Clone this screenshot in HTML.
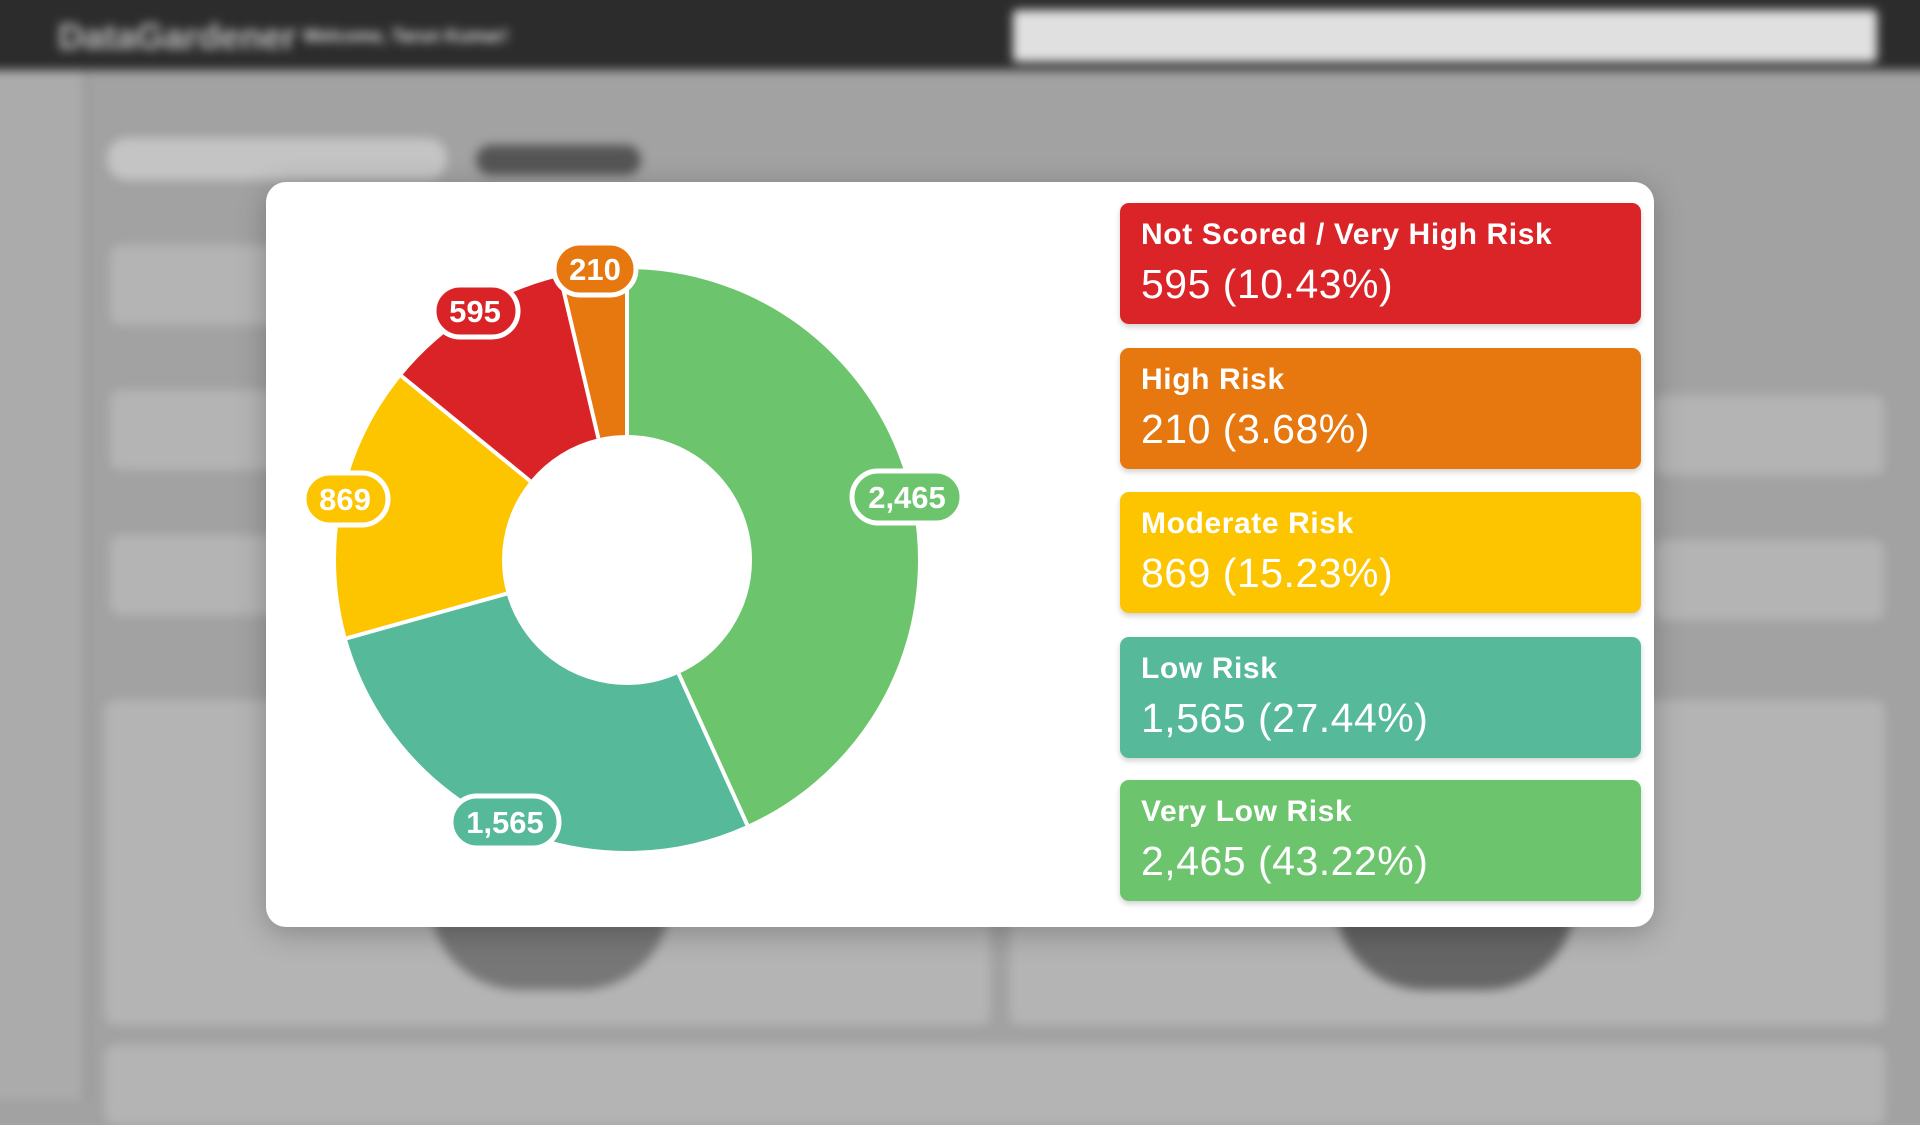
<!DOCTYPE html>
<html><head><meta charset="utf-8">
<style>
html,body{margin:0;padding:0;width:1920px;height:1080px;overflow:hidden;font-family:"Liberation Sans",sans-serif;background:#a2a2a2;}
.bg{position:absolute;inset:0;background:#a2a2a2;}
.blur{position:absolute;left:-20px;top:-20px;width:1960px;height:1120px;filter:blur(5px);}
.blur>div{margin:0}
.top{position:absolute;left:0;top:0;width:1960px;height:90px;background:#2c2c2c;}
.side{position:absolute;left:0;top:90px;width:104px;height:1030px;background:#ababab;border-right:3px solid #8f8f8f;}
.card{position:absolute;background:#b4b4b4;border-radius:10px;}
.modal{position:absolute;left:266px;top:182px;width:1388px;height:745px;background:#fff;border-radius:20px;box-shadow:0 6px 30px rgba(0,0,0,.25);}
.leg{position:absolute;left:1120px;width:521px;height:121px;border-radius:9px;color:#fff;box-shadow:0 3px 6px rgba(0,0,0,.18);}
.leg .t{position:absolute;left:21px;top:15px;font-size:30px;font-weight:bold;letter-spacing:0.6px;}
.leg .v{position:absolute;left:21px;top:58px;font-size:41px;letter-spacing:0.5px;}
</style></head><body>
<div class="bg"></div>
<div class="blur">
<div class="top"></div>
<div style="position:absolute;left:78px;top:36px;font-size:36px;color:#bbb;font-weight:bold">DataGardener</div>
<div style="position:absolute;left:323px;top:46px;font-size:18px;color:#ddd;font-weight:bold">Welcome, Tarun Kumar!</div>
<div style="position:absolute;left:1033px;top:30px;width:864px;height:52px;background:#e0e0e0;border-radius:4px"></div>
<div class="side"></div>
<div style="position:absolute;left:127px;top:158px;width:340px;height:42px;background:#c4c4c4;border-radius:20px"></div>
<div style="position:absolute;left:496px;top:165px;width:165px;height:30px;background:#555;border-radius:15px"></div>
<div class="card" style="left:130px;top:265px;width:180px;height:80px"></div>
<div class="card" style="left:130px;top:410px;width:180px;height:80px"></div>
<div class="card" style="left:130px;top:555px;width:180px;height:80px"></div>
<div class="card" style="left:1674px;top:415px;width:230px;height:80px"></div>
<div class="card" style="left:1674px;top:560px;width:230px;height:80px"></div>
<div class="card" style="left:125px;top:720px;width:885px;height:325px"></div>
<div class="card" style="left:1030px;top:720px;width:875px;height:325px"></div>
<div style="position:absolute;left:450px;top:920px;width:240px;height:90px;background:#777;border-radius:0 0 120px 120px"></div>
<div style="position:absolute;left:1355px;top:920px;width:240px;height:90px;background:#666;border-radius:0 0 120px 120px"></div>
<div class="card" style="left:125px;top:1065px;width:1780px;height:80px"></div>
</div>
<div class="modal"></div>
<svg style="position:absolute;left:0;top:0" width="1920" height="1080">
<g transform="rotate(-90 627 560)" fill="none" stroke-width="166">
<circle cx="627" cy="560" r="208" stroke="#6cc46d" stroke-dasharray="565.1 1306.9" stroke-dashoffset="0"/>
<circle cx="627" cy="560" r="208" stroke="#55b99a" stroke-dasharray="358.6 1306.9" stroke-dashoffset="-565.1"/>
<circle cx="627" cy="560" r="208" stroke="#fdc400" stroke-dasharray="199.0 1306.9" stroke-dashoffset="-923.7"/>
<circle cx="627" cy="560" r="208" stroke="#da2326" stroke-dasharray="136.3 1306.9" stroke-dashoffset="-1122.7"/>
<circle cx="627" cy="560" r="208" stroke="#e7770f" stroke-dasharray="48.1 1306.9" stroke-dashoffset="-1259.0"/>
</g>
<g stroke="#fff" stroke-width="4">
<line x1="627" y1="435" x2="627" y2="268"/>
<line x1="678.7" y1="673.8" x2="747.3" y2="825"/>
<line x1="506.6" y1="593.7" x2="346.7" y2="638.3"/>
<line x1="530.1" y1="481" x2="401.5" y2="376.1"/>
<line x1="598.4" y1="438.3" x2="560.3" y2="276.7"/>
</g>
<g font-family="Liberation Sans, sans-serif" font-weight="bold" font-size="31" fill="#fff" text-anchor="middle" stroke-width="5">
<rect x="852" y="471" width="110" height="52" rx="26" fill="#6cc46d" stroke="#fff"/><text x="907" y="508" stroke="none">2,465</text>
<rect x="451" y="796" width="108" height="52" rx="26" fill="#55b99a" stroke="#fff"/><text x="505" y="833" stroke="none">1,565</text>
<rect x="304" y="473" width="84" height="52" rx="26" fill="#fdc400" stroke="#fff"/><text x="345" y="510" stroke="none">869</text>
<rect x="434" y="285" width="84" height="52" rx="26" fill="#da2326" stroke="#fff"/><text x="475" y="322" stroke="none">595</text>
<rect x="554" y="243" width="82" height="52" rx="26" fill="#e7770f" stroke="#fff"/><text x="595" y="280" stroke="none">210</text>
</g>
</svg>
<div class="leg" style="top:203px;background:#da2428"><div class="t">Not Scored / Very High Risk</div><div class="v">595 (10.43%)</div></div>
<div class="leg" style="top:348px;background:#e7770f"><div class="t">High Risk</div><div class="v">210 (3.68%)</div></div>
<div class="leg" style="top:492px;background:#fdc400"><div class="t">Moderate Risk</div><div class="v">869 (15.23%)</div></div>
<div class="leg" style="top:637px;background:#55b99a"><div class="t">Low Risk</div><div class="v">1,565 (27.44%)</div></div>
<div class="leg" style="top:780px;background:#6cc46d"><div class="t">Very Low Risk</div><div class="v">2,465 (43.22%)</div></div>
</body></html>
